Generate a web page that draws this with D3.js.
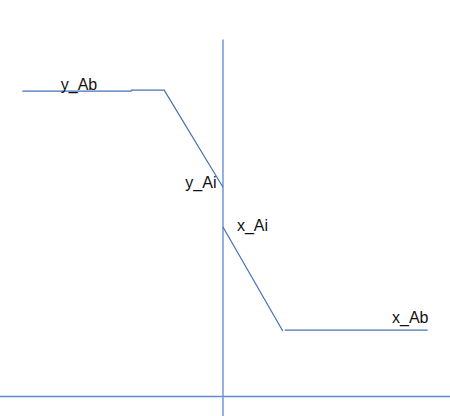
<!DOCTYPE html>
<html>
<head>
<meta charset="utf-8">
<script src="https://cdn.jsdelivr.net/npm/d3@7"></script>
<style>
  html, body { margin: 0; padding: 0; background: #fff; }
  svg { display: block; }
  text { font-family: "Liberation Sans", Arial, sans-serif; font-size: 16px; fill: #111; }
</style>
</head>
<body>
<script>
// ---- data (abstract units) ----
const yCurveA = [[-9.9, 15.4], [-4.5, 15.4]];
const yCurveB = [[-4.55, 15.45], [-2.9, 15.45], [0, 10.55]];
const xCurveA = [[0, 8.55], [2.95, 3.3]];
const xCurveB = [[3.05, 3.35], [10.1, 3.35]];
const labels = ["y_Ab", "y_Ai", "x_Ai", "x_Ab"];
const labelX = [-8.0, -0.32, 0.69, 8.34];
const labelY = [15.45, 10.5, 8.34, 3.7];
const labelAnchor = ["start", "end", "start", "start"];
const xDomain = [-11, 11.2];
const yDomain = [0, 18];
const yAxisBottom = -1;

const W = 450, H = 416;
const x = d3.scaleLinear().domain(xDomain).range([0, W]);
const y = d3.scaleLinear().domain(yDomain).range([396.5, 39.5]);

const svg = d3.select("body").append("svg").attr("width", W).attr("height", H);

// axes
svg.append("line")
  .attr("x1", x(xDomain[0])).attr("x2", x(xDomain[1]))
  .attr("y1", y(0)).attr("y2", y(0))
  .attr("stroke", "#5f8bcc").attr("stroke-width", 1.5);
svg.append("line")
  .attr("x1", x(0)).attr("x2", x(0))
  .attr("y1", y(yDomain[1])).attr("y2", y(yAxisBottom))
  .attr("stroke", "#6f97d2").attr("stroke-width", 1.5);

const line = d3.line().x(d => x(d[0])).y(d => y(d[1]));
[yCurveA, yCurveB, xCurveA, xCurveB].forEach(c => {
  svg.append("path").attr("d", line(c))
    .attr("fill", "none").attr("stroke", "#4470b8").attr("stroke-width", 1.2);
});

svg.selectAll("text.lbl").data(labels).enter().append("text")
  .attr("class", "lbl")
  .attr("x", (d, i) => x(labelX[i]))
  .attr("y", (d, i) => y(labelY[i]))
  .attr("text-anchor", (d, i) => labelAnchor[i])
  .text(d => d);
</script>
</body>
</html>
